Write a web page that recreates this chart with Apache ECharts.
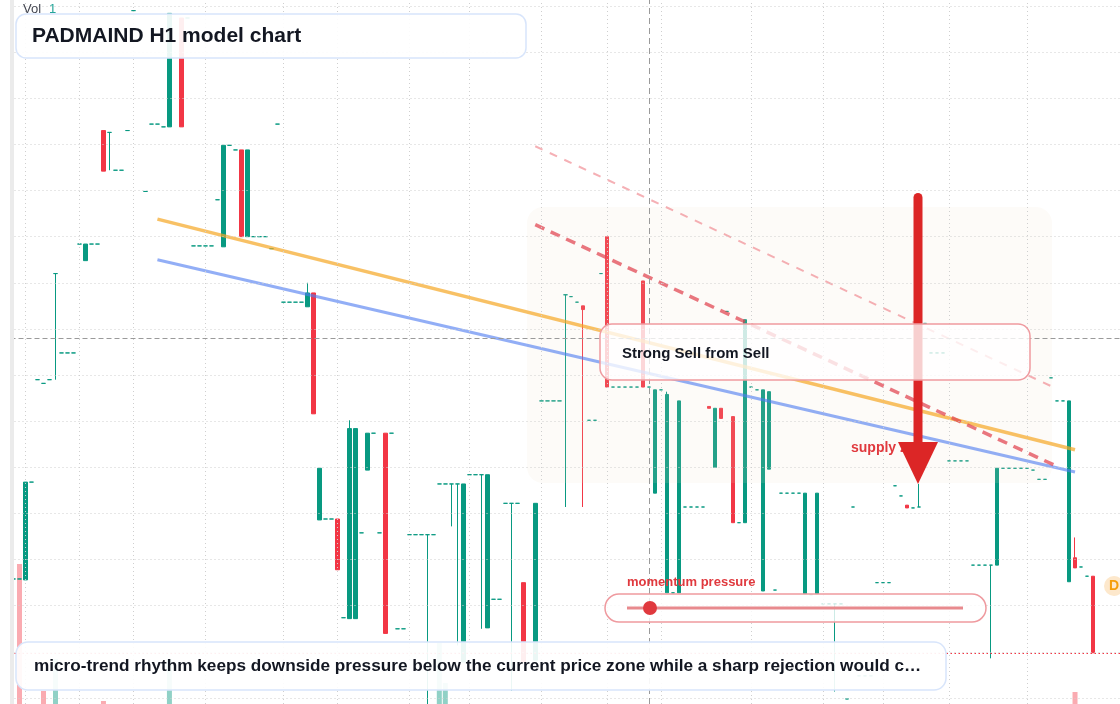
<!DOCTYPE html>
<html>
<head>
<meta charset="utf-8">
<title>PADMAIND H1 model chart</title>
<script src="https://cdn.jsdelivr.net/npm/echarts@6/dist/echarts.min.js"></script>
<style>
  html, body { margin: 0; padding: 0; background: #ffffff; }
  #chart { width: 1120px; height: 704px; }
</style>
</head>
<body>
<div id="chart"></div>
<script>
  // bar slots on the time axis (only some of them hold a candle)
  const barCount = 185
  const categories = []
  for (let i = 0; i < barCount; i++) categories.push('bar ' + i)

  // doji-like bars: [bar, price]
  const flatBars = [
    [0, 112.9], [1, 112.9], [3, 123.4], [4, 134.5], [5, 134.1], [6, 134.5],
    [8, 137.4], [9, 137.4], [10, 137.4], [11, 149.2], [13, 149.2], [14, 149.2],
    [17, 157.2], [18, 157.2], [19, 161.5], [20, 174.5], [22, 154.9], [23, 162.2],
    [24, 162.2], [25, 161.9], [29, 173.7], [30, 149.0], [31, 149.0], [32, 149.0],
    [33, 149.0], [34, 154.0], [36, 159.9], [37, 159.4], [40, 150.0], [41, 150.0],
    [42, 150.0], [43, 148.7], [44, 162.2], [45, 142.9], [46, 142.9], [47, 142.9],
    [48, 142.9], [52, 119.4], [53, 119.4], [55, 108.7], [58, 117.9], [60, 128.7],
    [61, 117.9], [63, 128.7], [64, 107.5], [65, 107.5], [66, 117.7], [67, 117.7],
    [68, 117.7], [70, 117.7], [71, 123.2], [72, 123.2], [76, 124.2], [77, 124.2],
    [80, 110.7], [81, 110.7], [82, 121.1], [84, 121.1], [88, 132.2], [89, 132.2],
    [90, 132.2], [91, 132.2], [93, 143.5], [94, 142.9], [96, 130.1], [97, 130.1],
    [98, 146.0], [100, 133.7], [101, 133.7], [102, 133.7], [103, 133.7], [104, 133.7],
    [106, 133.7], [108, 133.4], [110, 111.4], [112, 120.7], [113, 120.7], [114, 120.7],
    [115, 120.7], [119, 141.9], [121, 119.0], [123, 133.7], [124, 133.4], [127, 111.7],
    [128, 122.2], [129, 122.2], [130, 122.2], [131, 122.2], [133, 111.2], [135, 110.2],
    [136, 110.2], [138, 110.2], [139, 99.9], [140, 120.7], [141, 102.4], [142, 102.4],
    [143, 102.4], [144, 112.5], [145, 112.5], [146, 112.5], [147, 123.0], [148, 121.9],
    [150, 120.6], [152, 140.6], [153, 137.4], [154, 137.4], [155, 137.4], [156, 125.7],
    [157, 125.7], [158, 125.7], [159, 125.7], [160, 114.4], [161, 114.4], [162, 114.4],
    [165, 124.9], [166, 124.9], [167, 124.9], [168, 124.9], [169, 124.9], [170, 124.7],
    [171, 123.7], [172, 123.7], [173, 134.7], [174, 132.2], [175, 132.2], [178, 114.2],
    [179, 113.2]
  ]

  // bars with a body or a wick: [bar, open, close, low, high]
  const bodyBars = [
    [2, 112.8, 123.4, 112.8, 123.4],
    [7, 146.0, 146.0, 134.5, 146.0],
    [12, 147.4, 149.2, 147.4, 149.2],
    [15, 161.5, 157.1, 157.1, 161.5],
    [16, 161.3, 161.3, 157.2, 161.3],
    [26, 161.9, 174.2, 161.9, 174.2],
    [28, 173.7, 161.9, 161.9, 173.7],
    [35, 148.9, 159.9, 148.9, 159.9],
    [38, 159.4, 150.0, 150.0, 159.4],
    [39, 150.0, 159.4, 150.0, 159.4],
    [49, 142.4, 143.9, 142.4, 145.0],
    [50, 143.9, 130.8, 130.8, 143.9],
    [51, 119.3, 124.9, 119.3, 124.9],
    [54, 119.4, 113.9, 113.9, 119.4],
    [56, 108.6, 129.2, 108.6, 130.1],
    [57, 108.6, 129.2, 108.6, 129.2],
    [59, 124.7, 128.7, 124.7, 128.7],
    [62, 128.7, 107.0, 107.0, 128.7],
    [69, 117.7, 117.7, 97.6, 117.7],
    [73, 123.2, 123.2, 118.6, 123.2],
    [74, 123.2, 123.2, 105.7, 123.2],
    [75, 103.9, 123.2, 103.9, 123.2],
    [78, 124.2, 124.2, 107.5, 124.2],
    [79, 107.6, 124.2, 107.6, 124.2],
    [83, 121.1, 121.1, 100.8, 121.1],
    [85, 112.5, 103.9, 103.9, 112.5],
    [87, 104.1, 121.1, 104.1, 121.1],
    [92, 143.7, 143.7, 120.7, 143.7],
    [95, 142.5, 142.1, 120.7, 142.5],
    [99, 150.0, 133.7, 133.7, 150.0],
    [105, 145.2, 133.7, 133.7, 145.2],
    [107, 122.2, 133.4, 122.2, 133.4],
    [109, 111.4, 132.9, 111.4, 133.2],
    [111, 111.4, 132.2, 111.4, 132.2],
    [116, 131.6, 131.4, 131.4, 131.6],
    [117, 125.0, 131.4, 125.0, 131.4],
    [118, 131.4, 130.3, 130.3, 131.4],
    [120, 130.5, 119.0, 119.0, 130.5],
    [122, 119.0, 141.0, 119.0, 141.0],
    [125, 111.6, 133.4, 111.6, 133.4],
    [126, 124.8, 133.2, 124.8, 133.2],
    [132, 111.3, 122.2, 111.3, 122.2],
    [134, 111.3, 122.2, 111.3, 122.2],
    [137, 110.2, 110.2, 100.7, 110.2],
    [149, 120.9, 120.6, 120.6, 120.9],
    [151, 120.7, 120.7, 120.7, 123.2],
    [163, 114.4, 114.4, 104.3, 114.4],
    [164, 114.4, 124.9, 114.4, 124.9],
    [176, 112.6, 132.2, 112.6, 132.2],
    [177, 115.2, 114.1, 114.1, 117.4],
    [180, 113.2, 104.9, 104.9, 113.2]
  ]

  // volume: [bar, volume, direction]
  const volumes = [
    [1, 140, -1], [5, 13, -1], [7, 45, 1], [15, 3, -1],
    [26, 45, 1], [71, 61, 1], [72, 21, 1], [177, 12, -1]
  ]

  // trend lines: [bar, price] end points
  const trendUpper = [[24, 151.9], [177, 126.9]]
  const trendLower = [[24, 147.5], [177, 124.5]]
  const channelInner = [[87, 151.3], [174, 125.1]]
  const channelOuter = [[87, 159.8], [174, 133.5]]

  const priceLevels = [100, 105, 110, 115, 120, 125, 130, 135, 140, 145, 150, 155, 160, 165, 170, 175]
  const sessionBars = [2, 11, 20, 32, 45, 54, 66, 76, 88, 99, 108, 123, 135, 145, 156, 169]
  const crossBar = 106
  const crossPrice = 139.0
  const lastPrice = 104.9

  const UP = '#089981'
  const DOWN = '#f23645'
  const FONT = '"Liberation Sans", Arial, sans-serif'

  const candleData = []
  flatBars.forEach(([i, p]) => {
    candleData.push({ value: [i, p, p, p, p], itemStyle: { color0: UP, borderColor0: UP } })
  })
  bodyBars.forEach(([i, o, c, l, h]) => {
    const item = { value: [i, o, c, l, h] }
    if (o === c) item.itemStyle = { color0: UP, borderColor0: UP }
    candleData.push(item)
  })
  candleData.sort((a, b) => a.value[0] - b.value[0])

  const chart = echarts.init(document.getElementById('chart'), null, { renderer: 'canvas' })

  function txt(text, x, y, size, color, weight) {
    return {
      type: 'text', x: x, y: y, z: 35, silent: true,
      style: {
        text: text, fill: color, fontSize: size, fontWeight: weight || 'bold', fontFamily: FONT,
        align: 'left', verticalAlign: 'middle', textAlign: 'left', textVerticalAlign: 'middle'
      }
    }
  }

  const hiddenAxis = {
    show: false,
    axisLine: { show: false },
    axisTick: { show: false },
    axisLabel: { show: false },
    splitLine: { show: false },
    splitArea: { show: false }
  }

  const option = {
    animation: false,
    backgroundColor: '#ffffff',
    tooltip: { show: false },
    grid: [
      { left: 10.5, width: 1110, top: 0, height: 704 },
      { left: 10.5, width: 1110, top: 504, height: 200 }
    ],
    xAxis: [
      Object.assign({ type: 'category', data: categories, gridIndex: 0, boundaryGap: true }, hiddenAxis),
      Object.assign({ type: 'category', data: categories, gridIndex: 1, boundaryGap: true }, hiddenAxis)
    ],
    yAxis: [
      Object.assign({ type: 'value', gridIndex: 0, min: 99.35, max: 175.65 }, hiddenAxis),
      Object.assign({ type: 'value', gridIndex: 1, min: 0, max: 200 }, hiddenAxis)
    ],
    series: [
      {
        name: 'grid',
        type: 'line',
        data: [],
        z: 1,
        silent: true,
        markLine: {
          silent: true,
          animation: false,
          symbol: ['none', 'none'],
          label: { show: false },
          lineStyle: { color: '#cfcfcf', width: 1, type: [1, 3] },
          data: sessionBars.map(i => ({ xAxis: categories[i] }))
            .concat(priceLevels.map(v => ({ yAxis: v })))
        }
      },
      {
        name: 'Vol',
        type: 'bar',
        xAxisIndex: 1,
        yAxisIndex: 1,
        barWidth: 5,
        z: 1,
        silent: true,
        data: volumes.map(([i, v, d]) => ({
          value: [i, v],
          itemStyle: { color: d > 0 ? 'rgba(8,153,129,0.45)' : 'rgba(242,54,69,0.42)' }
        }))
      },
      {
        name: 'PADMAIND',
        type: 'candlestick',
        xAxisIndex: 0,
        yAxisIndex: 0,
        barWidth: 4,
        clip: false,
        z: 2,
        silent: true,
        encode: { x: 0, y: [1, 2, 3, 4] },
        itemStyle: { color: UP, color0: DOWN, borderColor: UP, borderColor0: DOWN, borderWidth: 1 },
        data: candleData
      },
      {
        name: 'trend upper',
        type: 'line',
        z: 4,
        silent: true,
        symbol: 'none',
        lineStyle: { color: '#f5a623', width: 3.5, opacity: 0.7 },
        data: trendUpper.map(([i, v]) => [categories[i], v])
      },
      {
        name: 'trend lower',
        type: 'line',
        z: 4,
        silent: true,
        symbol: 'none',
        lineStyle: { color: '#4f7cf0', width: 3, opacity: 0.62 },
        data: trendLower.map(([i, v]) => [categories[i], v])
      },
      {
        name: 'channel inner',
        type: 'line',
        z: 4,
        silent: true,
        symbol: 'none',
        lineStyle: { color: '#e0434f', width: 3.5, opacity: 0.72, type: [10, 7] },
        data: channelInner.map(([i, v]) => [categories[i], v])
      },
      {
        name: 'channel outer',
        type: 'line',
        z: 4,
        silent: true,
        symbol: 'none',
        lineStyle: { color: '#ec7078', width: 2, opacity: 0.55, type: [8, 8] },
        data: channelOuter.map(([i, v]) => [categories[i], v])
      },
      {
        name: 'crosshair',
        type: 'line',
        data: [],
        z: 4,
        silent: true,
        markLine: {
          silent: true,
          animation: false,
          symbol: ['none', 'none'],
          label: { show: false },
          data: [
            { xAxis: categories[crossBar], lineStyle: { color: '#9a9a9a', width: 1, type: [6, 4] } },
            { yAxis: crossPrice, lineStyle: { color: '#9a9a9a', width: 1, type: [5, 3] } },
            { yAxis: lastPrice, lineStyle: { color: DOWN, width: 1, type: [1.5, 2.5] } }
          ]
        }
      }
    ],
    graphic: {
      elements: [
        { type: 'rect', z: 3, silent: true, shape: { x: 527, y: 207, width: 525, height: 276, r: 16 },
          style: { fill: 'rgba(240,220,200,0.12)' } },
        { type: 'rect', z: 40, silent: true, shape: { x: 10, y: 0, width: 4, height: 704 },
          style: { fill: '#ebebeb' } },
        Object.assign(txt('supply zone', 851, 448, 14, '#e0393e'), { z: 30 }),
        { type: 'rect', z: 32, silent: true, shape: { x: 913.5, y: 193, width: 9, height: 252, r: [4.5, 4.5, 0, 0] },
          style: { fill: '#dc2626' } },
        { type: 'polygon', z: 32, silent: true, shape: { points: [[898, 442], [938, 442], [918, 484]] },
          style: { fill: '#dc2626' } },
        { type: 'rect', z: 34, silent: true, shape: { x: 600, y: 324, width: 430, height: 56, r: 12 },
          style: { fill: 'rgba(255,255,255,0.78)', stroke: '#ef9a9f', lineWidth: 1.5 } },
        txt('Strong Sell from Sell', 622, 354, 15, '#131722'),
        { type: 'rect', z: 34, silent: true, shape: { x: 16, y: 14, width: 510, height: 44, r: 10 },
          style: { fill: 'rgba(255,255,255,0.92)', stroke: '#d8e5fb', lineWidth: 1.5 } },
        txt('PADMAIND H1 model chart', 32, 36, 21, '#131722'),
        txt('momentum pressure', 627, 582, 13, '#e0393e'),
        { type: 'rect', z: 34, silent: true, shape: { x: 605, y: 594, width: 381, height: 28, r: 14 },
          style: { fill: 'rgba(255,255,255,0.8)', stroke: '#ef9a9f', lineWidth: 1.5 } },
        { type: 'line', z: 35, silent: true, shape: { x1: 627, y1: 608, x2: 963, y2: 608 },
          style: { stroke: '#e88a8e', lineWidth: 3 } },
        { type: 'circle', z: 36, silent: true, shape: { cx: 650, cy: 608, r: 7 },
          style: { fill: '#e0393e' } },
        { type: 'rect', z: 34, silent: true, shape: { x: 16, y: 642, width: 930, height: 48, r: 12 },
          style: { fill: 'rgba(255,255,255,0.92)', stroke: '#d8e5fb', lineWidth: 1.5 } },
        txt('micro-trend rhythm keeps downside pressure below the current price zone while a sharp rejection would c\u2026', 34, 666, 17.2, '#131722'),
        txt('Vol', 23, 9, 13, '#434651', 'normal'),
        txt('1', 49, 9, 13, '#26a69a', 'normal'),
        { type: 'circle', z: 35, silent: true, shape: { cx: 1114, cy: 586, r: 10 },
          style: { fill: '#fde8cc' } },
        { type: 'text', z: 36, silent: true, x: 1114, y: 586,
          style: { text: 'D', fill: '#f59e0b', fontSize: 14, fontWeight: 'bold', fontFamily: FONT,
            align: 'center', verticalAlign: 'middle', textAlign: 'center', textVerticalAlign: 'middle' } }
      ]
    }
  }

  chart.setOption(option)
  window.addEventListener('resize', () => chart.resize())
</script>
</body>
</html>
